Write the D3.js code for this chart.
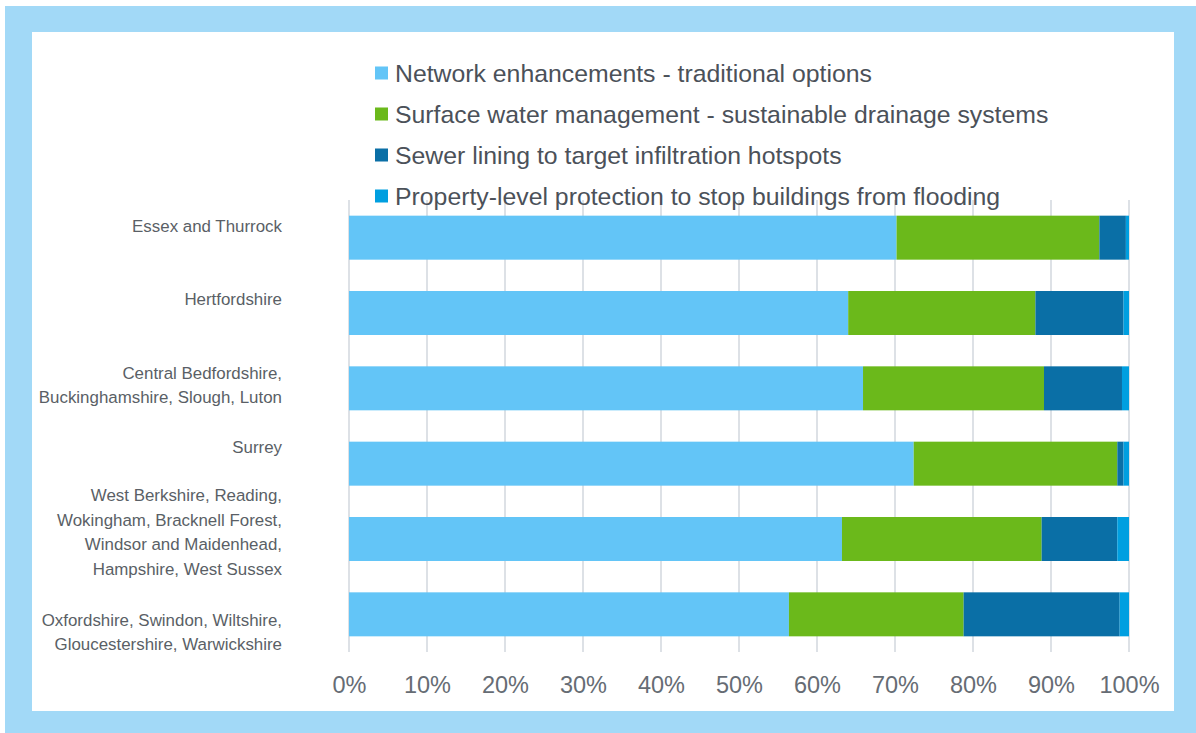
<!DOCTYPE html>
<html>
<head>
<meta charset="utf-8">
<script src="https://cdn.jsdelivr.net/npm/d3@7"></script>
<style>
  html, body { margin: 0; padding: 0; background: #ffffff; }
  svg { display: block; }
</style>
</head>
<body>
<svg id="chart" width="1196" height="733"></svg>
<script>
// Regions (top to bottom) and the share of investment in each option (%)
const regions = [
  ["Essex and Thurrock"],
  ["Hertfordshire"],
  ["Central Bedfordshire,", "Buckinghamshire, Slough, Luton"],
  ["Surrey"],
  ["West Berkshire, Reading,", "Wokingham, Bracknell Forest,", "Windsor and Maidenhead,", "Hampshire, West Sussex"],
  ["Oxfordshire, Swindon, Wiltshire,", "Gloucestershire, Warwickshire"]
];
const seriesNames = [
  "Network enhancements - traditional options",
  "Surface water management - sustainable drainage systems",
  "Sewer lining to target infiltration hotspots",
  "Property-level protection to stop buildings from flooding"
];
const networkEnhancements = [70.2, 64.0, 65.9, 72.4, 63.2, 56.4];
const surfaceWater        = [26.0, 24.0, 23.2, 26.1, 25.6, 22.4];
const sewerLining         = [3.4, 11.3, 10.0, 0.8, 9.7, 20.0];
const propertyProtection  = [0.4, 0.7, 0.9, 0.7, 1.5, 1.2];
const xTicks = [0, 10, 20, 30, 40, 50, 60, 70, 80, 90, 100];

// Presentation
const colors = ["#63c5f7", "#6bb91b", "#0a6fa6", "#009fe0"];
const labelShift = [-12, -14, -3, -17, -7, 18]; // vertical nudge of each region label

const svg = d3.select("#chart");

// light-blue frame around a white panel
svg.append("rect").attr("x", 5).attr("y", 6).attr("width", 1191).attr("height", 727).attr("fill", "#a2d9f7");
svg.append("rect").attr("x", 32).attr("y", 32).attr("width", 1142).attr("height", 679).attr("fill", "#ffffff");

const keys = ["net", "sur", "sew", "pro"];
const rows = regions.map((r, i) => ({
  id: i,
  net: networkEnhancements[i],
  sur: surfaceWater[i],
  sew: sewerLining[i],
  pro: propertyProtection[i]
}));

const x = d3.scaleLinear().domain([0, 100]).range([349, 1129]);
const y = d3.scaleBand().domain(d3.range(regions.length)).range([200, 652])
  .paddingInner(0.416).paddingOuter(0.208);

// vertical gridlines
svg.append("g").selectAll("line").data(xTicks).join("line")
  .attr("x1", d => x(d)).attr("x2", d => x(d))
  .attr("y1", 200).attr("y2", 652)
  .attr("stroke", "#dde1e6").attr("stroke-width", 2);

// stacked bars
const stack = d3.stack().keys(keys)(rows);
svg.append("g").selectAll("g").data(stack).join("g")
  .attr("fill", (d, i) => colors[i])
  .selectAll("rect").data(d => d).join("rect")
  .attr("x", d => x(d[0]))
  .attr("width", d => x(d[1]) - x(d[0]))
  .attr("y", d => y(d.data.id))
  .attr("height", y.bandwidth());

// x axis labels
const xAxis = d3.axisBottom(x).tickValues(xTicks).tickFormat(d => d + "%").tickSize(0).tickPadding(0);
const gx = svg.append("g").attr("transform", "translate(0,676)").call(xAxis);
gx.select(".domain").remove();
gx.selectAll("text")
  .attr("font-family", "Liberation Sans, Arial, sans-serif")
  .attr("font-size", 23.5).attr("fill", "#666c74").attr("dy", "0.71em");

// region labels
const lineH = 24.5;
const lbl = svg.append("g")
  .attr("font-family", "Liberation Sans, Arial, sans-serif")
  .attr("font-size", 16.9).attr("fill", "#5a5f66").attr("text-anchor", "end");
regions.forEach((lines, i) => {
  const cy = y(i) + y.bandwidth() / 2 + labelShift[i];
  const t = lbl.append("text").attr("x", 282);
  lines.forEach((ln, j) => {
    t.append("tspan").attr("x", 282)
      .attr("y", cy + (j - (lines.length - 1) / 2) * lineH)
      .attr("dy", "0.35em").text(ln);
  });
});

// legend
const leg = svg.append("g").attr("transform", "translate(375,73)");
const items = leg.selectAll("g").data(seriesNames).join("g")
  .attr("transform", (d, i) => `translate(0,${i * 41})`);
items.append("rect").attr("x", 0).attr("y", -6.5).attr("width", 13).attr("height", 13)
  .attr("fill", (d, i) => colors[i]);
items.append("text").attr("x", 20).attr("dy", "0.35em")
  .attr("font-family", "Liberation Sans, Arial, sans-serif")
  .attr("font-size", 24.8).attr("fill", "#4b5159").text(d => d);
</script>
</body>
</html>
